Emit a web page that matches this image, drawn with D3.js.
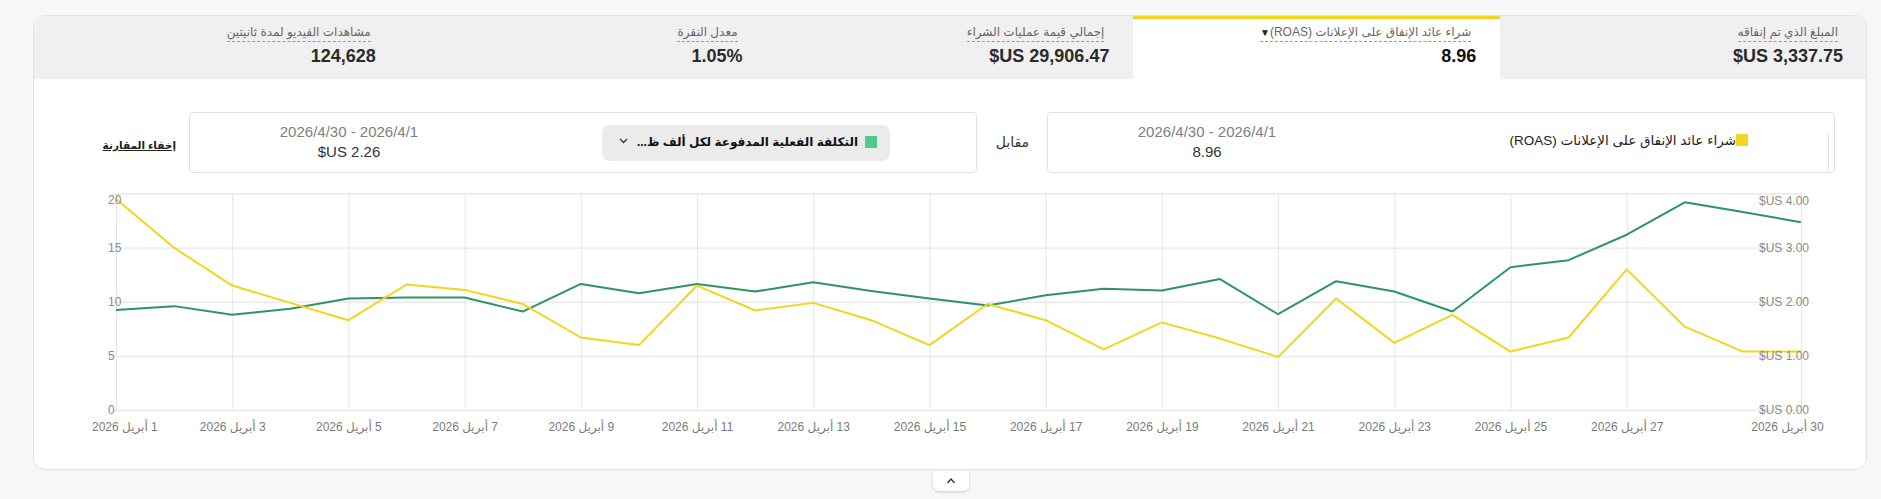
<!DOCTYPE html>
<html><head><meta charset="utf-8">
<script src="https://cdn.jsdelivr.net/npm/d3@7"></script>
<style>
body{margin:0;background:#f7f7f7;width:1881px;height:499px;overflow:hidden;font-family:"Liberation Sans",Arial,"DejaVu Sans",sans-serif;}
#root{position:relative;width:1881px;height:499px;}
.abs{position:absolute;white-space:nowrap;}
</style></head><body><div id="root"></div>
<script>
// ---------- data ----------
const dayNums=[1,2,3,4,5,6,7,8,9,10,11,12,13,14,15,16,17,18,19,20,21,22,23,24,25,26,27,28,29,30];
const roas=[19.5,15.0,11.5,9.9,8.3,11.6,11.1,9.8,6.7,6.0,11.5,9.2,9.9,8.3,6.0,9.8,8.3,5.6,8.1,6.6,4.9,10.3,6.2,8.8,5.4,6.7,13.0,7.7,5.4,5.4];
const cpm=[1.85,1.92,1.76,1.87,2.06,2.08,2.08,1.82,2.33,2.16,2.33,2.19,2.36,2.20,2.06,1.93,2.12,2.24,2.21,2.42,1.77,2.38,2.19,1.82,2.64,2.77,3.24,3.84,3.66,3.47];
const xTickDays=[1,3,5,7,9,11,13,15,17,19,21,23,25,27,30];
const leftTicks=[0,5,10,15,20];
const rightTicks=[0,1,2,3,4];
const tabLabels=["المبلغ الذي تم إنفاقه","شراء عائد الإنفاق على الإعلانات (ROAS)","إجمالي قيمة عمليات الشراء","معدل النقرة","مشاهدات الفيديو لمدة ثانيتين"];
const tabValues=["$US 3,337.75","8.96","$US 29,906.47","1.05%","124,628"];
const selectedTab=1;
const monthName="أبريل";
const primaryName="شراء عائد الإنفاق على الإعلانات (ROAS)";
const secondaryName="التكلفة الفعلية المدفوعة لكل ألف ظ...";
const dateRange="2026/4/30 - 2026/4/1";
const primaryTotal="8.96", secondaryTotal="$US 2.26";

const YELLOW="#f2d61e", GREEN="#2e9462", GREEN_SQ="#4fc98c";

const root=d3.select("#root");
function div(css,text){const d=root.append("div").attr("class","abs").attr("style",css);if(text!==undefined)d.text(text);return d;}

// card
div("left:33px;top:15px;width:1832px;height:453px;background:#fff;border:1px solid #e3e3e3;border-radius:12px;");
div("left:34px;top:16px;width:1832px;height:63px;background:#f0f0f0;border-radius:11px 11px 0 0;");
const tabW=1834/5, cardRight=1867;
tabLabels.forEach((lab,i)=>{
  const r=cardRight-i*tabW, l=r-tabW;
  if(i===selectedTab){
    div(`left:${l}px;top:16px;width:${tabW}px;height:60px;background:#fff;border-top:3px solid ${YELLOW};`);
  }
  const ld=div(`right:${1881-(r-29)}px;top:25px;font-size:12px;line-height:15px;color:#666;direction:rtl;border-bottom:1px dashed #9a9a9a;padding-bottom:1px;`,lab);
  if(i===selectedTab){ld.append("span").style("font-size","10px").style("color","#222").text("▼");}
  div(`right:${1881-(r-24)}px;top:46px;font-size:18px;line-height:21px;font-weight:bold;color:${i===selectedTab?'#111':'#2b2b2b'};direction:ltr;`,tabValues[i]);
});

// comparison boxes
div("left:1047px;top:112px;width:786px;height:59px;border:1px solid #e2e2e2;border-radius:4px;background:#fff;");
div("left:189px;top:112px;width:786px;height:59px;border:1px solid #e2e2e2;border-radius:4px;background:#fff;");
div("left:1828px;top:133px;width:1px;height:39px;background:#e6e6e6;");
div(`left:1736px;top:134px;width:12px;height:12px;background:${YELLOW};border-radius:1px;`);
div("right:"+(1881-1736)+"px;top:133px;font-size:13.5px;line-height:16px;color:#222;direction:rtl;",primaryName);
div("left:1107px;width:200px;text-align:center;top:123px;font-size:15px;line-height:17px;color:#808080;",dateRange);
div("left:1107px;width:200px;text-align:center;top:143px;font-size:15px;line-height:17px;color:#333;",primaryTotal);
div("right:"+(1881-1029)+"px;top:134px;font-size:14px;line-height:17px;color:#333;direction:rtl;","مقابل");
div("left:602px;top:125px;width:288px;height:36px;background:#ebebeb;border-radius:8px;");
div(`left:865px;top:136px;width:12px;height:12px;background:${GREEN_SQ};border-radius:1px;`);
div("right:"+(1881-858)+"px;top:134px;font-size:12px;line-height:17px;font-weight:bold;color:#111;direction:rtl;",secondaryName);
div("left:249px;width:200px;text-align:center;top:123px;font-size:15px;line-height:17px;color:#808080;",dateRange);
div("left:249px;width:200px;text-align:center;top:143px;font-size:15px;line-height:17px;color:#333;",secondaryTotal);
div("right:"+(1881-176)+"px;top:138px;font-size:10.5px;line-height:14px;font-weight:bold;color:#222;direction:rtl;text-decoration:underline;","إخفاء المقارنة");
// collapse button
div("left:933px;top:471px;width:36px;height:20px;background:#fff;border-radius:0 0 6px 6px;box-shadow:0 1px 3px rgba(0,0,0,0.18);");

// ---------- chart ----------
const svg=root.append("svg").attr("class","abs").attr("width",1881).attr("height",499).style("left","0px").style("top","0px");
// chevrons
svg.append("path").attr("d","M620,139 L623.5,142.5 L627,139").attr("fill","none").attr("stroke","#333").attr("stroke-width",1.3);
svg.append("path").attr("d","M947.5,483 L951,479 L954.5,483").attr("fill","none").attr("stroke","#333").attr("stroke-width",1.3);

const dates=dayNums.map(d=>new Date(2026,3,d));
const plotL=116, plotR=1801, plotT=193.6, plotB=410;
const x=d3.scaleTime().domain([dates[0],dates[dates.length-1]]).range([plotL,plotR]);
const yL=d3.scaleLinear().domain([0,20]).range([plotB,plotT]);
const yR=d3.scaleLinear().domain([0,4]).range([plotB,plotT]);

// horizontal gridlines
const hg=svg.append("g").attr("transform",`translate(${plotR},0)`)
  .call(d3.axisLeft(yL).tickValues(leftTicks).tickSize(plotR-112).tickFormat(""));
hg.select(".domain").remove();
hg.selectAll("line").attr("stroke","#eeeeee").attr("stroke-width",2);
// vertical gridlines
const tickDates=xTickDays.map(d=>new Date(2026,3,d));
const vg=svg.append("g").attr("transform",`translate(0,${plotB})`)
  .call(d3.axisBottom(x).tickValues(tickDates).tickSize(-(plotB-plotT)).tickFormat(""));
vg.select(".domain").remove();
vg.selectAll("line").attr("stroke","#e6e6e6").attr("stroke-width",1);

// lines
const lineG=d3.line().x((d,i)=>x(dates[i])).y(d=>yR(d));
const lineY=d3.line().x((d,i)=>x(dates[i])).y(d=>yL(d));
svg.append("path").datum(cpm).attr("d",lineG).attr("fill","none").attr("stroke",GREEN).attr("stroke-width",2).attr("stroke-linejoin","round");
svg.append("path").datum(roas).attr("d",lineY).attr("fill","none").attr("stroke",YELLOW).attr("stroke-width",2).attr("stroke-linejoin","round");

// left axis labels
const la=svg.append("g").attr("transform",`translate(108,0)`)
  .call(d3.axisRight(yL).tickValues(leftTicks).tickSize(0).tickPadding(0));
la.select(".domain").remove();
la.selectAll("text").attr("fill","#8a8a8a").attr("font-size","12px").attr("font-family","Liberation Sans, Arial, sans-serif")
  .attr("text-anchor","start").attr("x",0)
  .attr("transform",d=>yL(d)<plotT+6?`translate(0,${plotT+6-yL(d)})`:null);
// right axis labels
const ra=svg.append("g").attr("transform",`translate(1809,0)`)
  .call(d3.axisLeft(yR).tickValues(rightTicks).tickSize(0).tickPadding(0).tickFormat(d=>"$US "+d3.format(".2f")(d)));
ra.select(".domain").remove();
ra.selectAll("text").attr("fill","#8a8a8a").attr("font-size","12px").attr("font-family","Liberation Sans, Arial, sans-serif")
  .attr("text-anchor","end").attr("x",0)
  .attr("transform",d=>yR(d)<plotT+7?`translate(0,${plotT+7-yR(d)})`:null);
// x axis labels
const xa=svg.append("g").attr("transform",`translate(0,${plotB})`)
  .call(d3.axisBottom(x).tickValues(tickDates).tickSize(0).tickPadding(0)
    .tickFormat(d=>`${d.getDate()} ${monthName} 2026`));
xa.select(".domain").remove();
xa.selectAll("text").attr("fill","#7a7a7a").attr("font-size","12px").attr("font-family","Liberation Sans, Arial, DejaVu Sans, sans-serif")
  .attr("y",17).attr("dy","0.32em").attr("direction","rtl").style("direction","rtl").attr("text-anchor","middle");
xa.selectAll(".tick").each(function(){
  const t=d3.select(this).select("text"), bb=t.node().getBBox();
  const tr=this.transform.baseVal.consolidate().matrix.e;
  const left=tr+bb.x, right=tr+bb.x+bb.width;
  if(left<92) t.attr("x",92-left);
  else if(right>1824) t.attr("x",1824-right);
});
</script></body></html>
